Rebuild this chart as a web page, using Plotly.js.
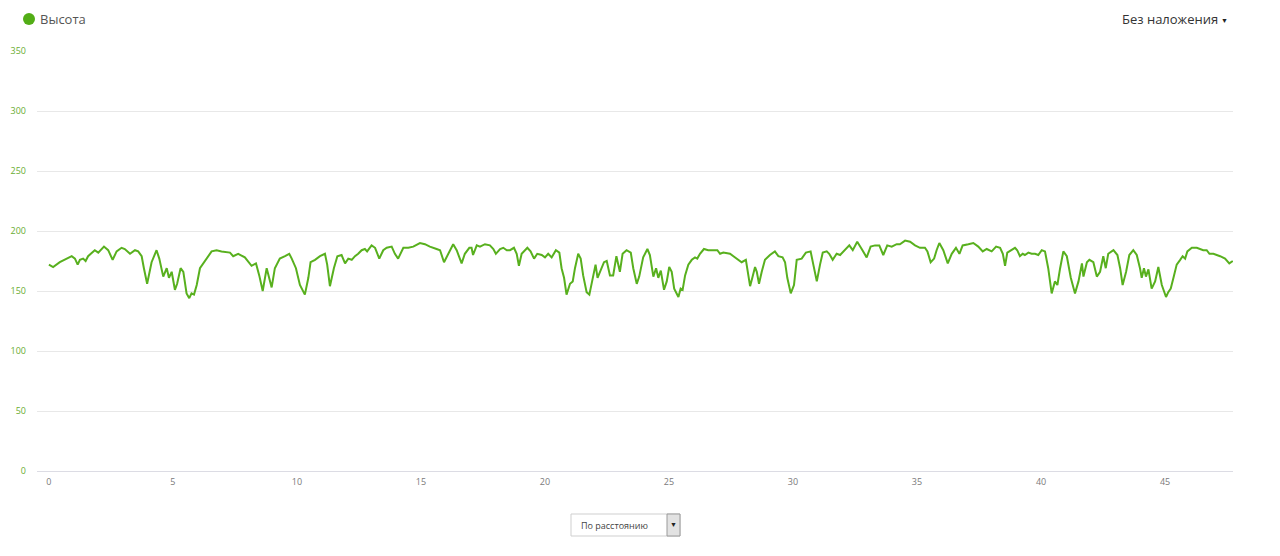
<!DOCTYPE html>
<html>
<head>
<meta charset="utf-8">
<script src="https://cdn.plot.ly/plotly-3.0.1.min.js"></script>
<style>
  html, body { margin: 0; padding: 0; background: #fff; }
  #chart { width: 1280px; height: 556px; }
</style>
</head>
<body>
<div id="chart"></div>
<script>
// ---- data (distance in km, elevation in m) ----
const seriesName = "Высота";
const distanceKm = [
  0, 0.17, 0.44, 0.65, 0.92, 1.05, 1.16, 1.25, 1.38, 1.48, 1.58, 1.85, 1.99, 2.22, 2.39, 2.57, 2.73, 2.93, 3.06, 3.27,
  3.47, 3.60, 3.74, 3.83, 3.96, 4.14, 4.34, 4.45, 4.61, 4.75, 4.84, 4.95, 5.08, 5.17, 5.31, 5.42, 5.55, 5.66, 5.75, 5.85,
  5.96, 6.09, 6.22, 6.36, 6.56, 6.76, 6.96, 7.30, 7.43, 7.63, 7.90, 8.17, 8.35, 8.48, 8.62, 8.78, 8.87, 8.98, 9.11, 9.31,
  9.52, 9.69, 9.79, 9.96, 10.12, 10.32, 10.46, 10.55, 10.73, 10.93, 11.13, 11.22, 11.33, 11.49, 11.63, 11.80, 11.94, 12.07, 12.21, 12.34,
  12.47, 12.61, 12.74, 12.83, 13.01, 13.15, 13.32, 13.48, 13.62, 13.82, 13.95, 14.08, 14.29, 14.49, 14.69, 14.96, 15.16, 15.36, 15.63, 15.77,
  15.93, 16.06, 16.30, 16.44, 16.64, 16.77, 16.95, 17.04, 17.10, 17.25, 17.38, 17.58, 17.78, 17.92, 18.02, 18.19, 18.32, 18.46, 18.59, 18.75,
  18.86, 18.95, 19.06, 19.29, 19.42, 19.56, 19.69, 19.87, 20.00, 20.13, 20.27, 20.44, 20.58, 20.67, 20.77, 20.87, 21.01, 21.12, 21.21, 21.34,
  21.44, 21.54, 21.68, 21.79, 21.88, 22.04, 22.12, 22.29, 22.38, 22.49, 22.62, 22.75, 22.88, 23.02, 23.13, 23.29, 23.46, 23.56, 23.70, 23.80,
  23.96, 24.13, 24.23, 24.37, 24.48, 24.57, 24.67, 24.80, 24.91, 25.01, 25.11, 25.21, 25.38, 25.47, 25.55, 25.65, 25.78, 25.92, 26.05, 26.14,
  26.25, 26.41, 26.58, 26.78, 26.95, 27.06, 27.19, 27.46, 27.73, 27.93, 28.10, 28.16, 28.27, 28.36, 28.47, 28.54, 28.63, 28.74, 28.87, 29.07,
  29.27, 29.41, 29.58, 29.68, 29.77, 29.91, 30.04, 30.15, 30.35, 30.52, 30.71, 30.82, 30.96, 31.09, 31.20, 31.36, 31.46, 31.60, 31.76, 31.90,
  32.10, 32.27, 32.41, 32.59, 32.77, 32.97, 33.13, 33.31, 33.48, 33.64, 33.80, 33.98, 34.18, 34.31, 34.52, 34.72, 34.92, 35.12, 35.32, 35.42,
  35.55, 35.69, 35.79, 35.90, 36.06, 36.24, 36.40, 36.57, 36.71, 36.84, 37.07, 37.27, 37.47, 37.65, 37.81, 38.01, 38.19, 38.35, 38.46, 38.55,
  38.64, 38.82, 38.95, 39.04, 39.15, 39.26, 39.35, 39.49, 39.62, 39.76, 39.89, 40.03, 40.16, 40.29, 40.43, 40.56, 40.66, 40.77, 40.90, 41.04,
  41.20, 41.37, 41.51, 41.65, 41.71, 41.85, 41.95, 42.11, 42.25, 42.38, 42.51, 42.61, 42.71, 42.92, 43.08, 43.19, 43.29, 43.43, 43.56, 43.72,
  43.86, 43.99, 44.06, 44.15, 44.23, 44.33, 44.46, 44.60, 44.73, 44.87, 45.04, 45.13, 45.23, 45.34, 45.47, 45.61, 45.71, 45.81, 45.90, 46.08,
  46.28, 46.54, 46.68, 46.79, 46.95, 47.22, 47.42, 47.59, 47.73
];
const elevationM = [
  172, 170, 174, 176, 179, 177, 172, 176, 177, 175, 179, 184, 182, 187, 184, 176, 183, 186, 185, 181,
  184, 183, 179, 169, 156, 174, 184, 177, 162, 169, 161, 166, 151, 156, 169, 166, 148, 144, 148, 147,
  155, 169, 173, 177, 183, 184, 183, 182, 179, 181, 178, 171, 173, 163, 150, 169, 162, 153, 169, 177,
  179, 181, 177, 169, 155, 147, 161, 174, 176, 179, 181, 172, 154, 169, 179, 180, 173, 177, 176, 179,
  181, 184, 185, 183, 188, 186, 177, 184, 186, 187, 181, 177, 186, 186, 187, 190, 189, 187, 185, 184,
  174, 179, 189, 184, 173, 181, 186, 186, 180, 188, 187, 189, 188, 185, 181, 185, 186, 184, 184, 186,
  181, 171, 181, 186, 183, 177, 181, 180, 178, 181, 178, 184, 182, 169, 161, 147, 156, 158, 169, 181,
  177, 163, 149, 147, 155, 172, 161, 169, 174, 175, 163, 163, 179, 166, 181, 184, 182, 169, 156, 162,
  178, 185, 180, 162, 169, 161, 167, 151, 158, 170, 166, 152, 145, 152, 151, 163, 172, 176, 178, 177,
  181, 185, 184, 184, 184, 181, 182, 181, 177, 174, 176, 169, 154, 161, 170, 166, 156, 166, 176, 180,
  183, 179, 178, 174, 161, 148, 155, 176, 177, 182, 183, 172, 158, 172, 182, 183, 181, 176, 181, 180,
  184, 188, 184, 191, 185, 178, 187, 188, 188, 180, 188, 187, 189, 189, 192, 191, 188, 186, 186, 183,
  174, 177, 184, 190, 184, 173, 181, 186, 181, 188, 189, 190, 187, 183, 185, 183, 187, 186, 181, 171,
  182, 184, 186, 184, 179, 181, 180, 182, 181, 181, 180, 184, 183, 169, 148, 158, 155, 169, 183, 179,
  161, 148, 158, 173, 162, 174, 176, 174, 162, 166, 179, 169, 181, 184, 180, 169, 155, 166, 180, 184,
  180, 169, 161, 169, 162, 168, 152, 158, 170, 155, 145, 149, 152, 161, 172, 176, 179, 177, 183, 186,
  186, 184, 184, 181, 181, 179, 177, 173, 175
];
const xTickVals = [0, 5, 10, 15, 20, 25, 30, 35, 40, 45];
const yTickVals = [0, 50, 100, 150, 200, 250, 300, 350];
const overlayLabel = "Без наложения";
const modeLabel = "По расстоянию";

// ---- layout helpers (plot area in pixels) ----
const PL = 37, PR = 1233, PT = 51, PB = 471;
const px = x => (x - PL) / (PR - PL);
const py = y => (PB - y) / (PB - PT);

const green = "#58b01e";

const trace = {
  type: "scatter",
  mode: "lines",
  x: distanceKm,
  y: elevationM,
  name: seriesName,
  showlegend: false,
  line: { color: green, width: 2 },
  hoverinfo: "x+y"
};

const layout = {
  width: 1280,
  height: 556,
  margin: { l: PL, r: 1280 - PR, t: PT, b: 556 - PB, pad: 0 },
  paper_bgcolor: "#ffffff",
  plot_bgcolor: "#ffffff",
  font: { family: "Open Sans, sans-serif", color: "#555" },
  showlegend: false,
  xaxis: {
    range: [-0.48, 47.74],
    tickvals: xTickVals,
    ticktext: xTickVals.map(String),
    showgrid: false,
    zeroline: false,
    showline: false,
    ticks: "",
    ticklabelstandoff: 4,
    tickfont: { size: 9, color: "#7a7a7a", family: "Open Sans, sans-serif" }
  },
  yaxis: {
    range: [0, 350],
    tickvals: yTickVals,
    ticktext: yTickVals.map(String),
    showgrid: true,
    gridcolor: "#e8e8e8",
    gridwidth: 1,
    zeroline: true,
    zerolinecolor: "#dcdce4",
    zerolinewidth: 1,
    showline: false,
    ticks: "",
    ticklabelstandoff: 10,
    tickfont: { size: 9, color: "#6aad33", family: "Open Sans, sans-serif" }
  },
  shapes: [
    // legend dot
    { type: "circle", xref: "paper", yref: "paper", xsizemode: "pixel", ysizemode: "pixel",
      xanchor: px(29), yanchor: py(19), x0: -6, x1: 6, y0: -6, y1: 6,
      fillcolor: "#52ad16", line: { width: 0 } },
    // dropdown box
    { type: "rect", xref: "paper", yref: "paper", x0: px(571), x1: px(680), y0: py(536), y1: py(514),
      fillcolor: "#ffffff", line: { color: "#cfcfcf", width: 1 } },
    { type: "rect", xref: "paper", yref: "paper", x0: px(667), x1: px(680), y0: py(536), y1: py(514),
      fillcolor: "#e2e2e2", line: { color: "#9a9a9a", width: 1 } }
  ],
  annotations: [
    { xref: "paper", yref: "paper", x: px(38), y: py(19), xanchor: "left", yanchor: "middle",
      text: seriesName, showarrow: false, font: { size: 13, color: "#555555" } },
    { xref: "paper", yref: "paper", x: px(1220), y: py(19), xanchor: "right", yanchor: "middle",
      text: overlayLabel, showarrow: false, font: { size: 13, color: "#333333" } },
    { xref: "paper", yref: "paper", x: px(1224), y: py(20), xanchor: "center", yanchor: "middle",
      text: "▼", showarrow: false, font: { size: 7, color: "#222222" } },
    { xref: "paper", yref: "paper", x: px(579), y: py(525), xanchor: "left", yanchor: "middle",
      text: modeLabel, showarrow: false, font: { size: 9, color: "#444444" } },
    { xref: "paper", yref: "paper", x: px(673.5), y: py(524), xanchor: "center", yanchor: "middle",
      text: "▼", showarrow: false, font: { size: 7, color: "#222222" } }
  ]
};

Plotly.newPlot("chart", [trace], layout, { displayModeBar: false, responsive: false });
</script>
</body>
</html>
